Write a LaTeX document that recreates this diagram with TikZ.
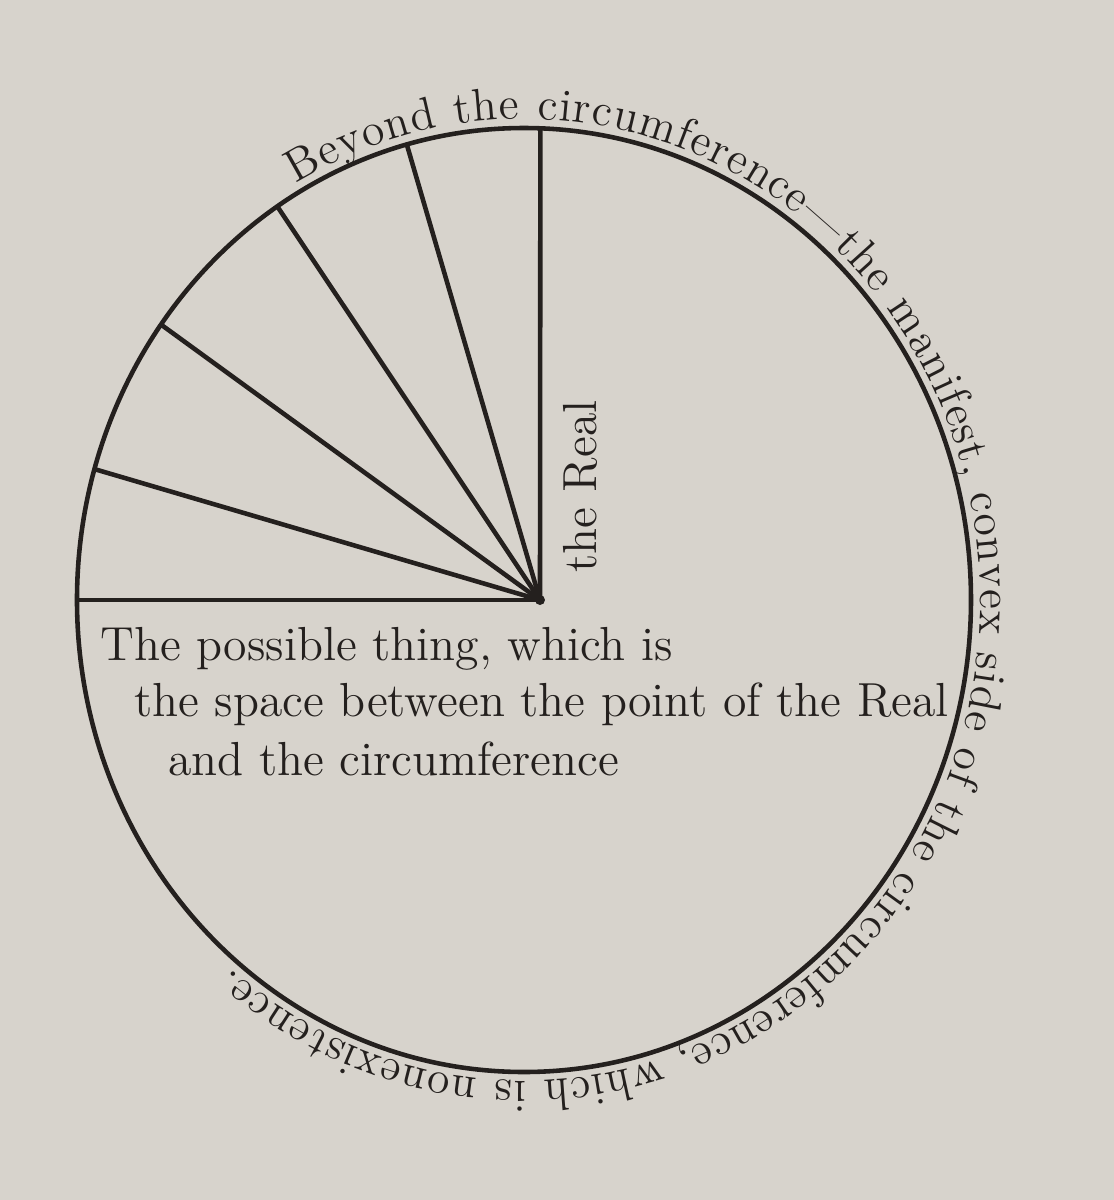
\documentclass[tikz,border=0pt]{standalone}
\usepackage{tikz}
\usetikzlibrary{decorations.text}
\definecolor{paper}{RGB}{215,211,204}
\definecolor{ink}{RGB}{36,32,30}

\begin{document}
\begin{tikzpicture}[line width=1.3pt]
			\tikzstyle{every node}=[inner sep=0pt, text=ink, font=\fontsize{13.6}{16}\selectfont]
			\fill [paper] (-5.24, -6) rectangle (5.90, 6);
			\useasboundingbox (-5.24, -6) rectangle (5.90, 6);
			\coordinate (O) at (0, 0);
			\coordinate (R) at (0.16, 0);
			\draw [ink] (O) ellipse [x radius=4.47, y radius=4.72];
			\foreach \a/\n in {87.9/A, 105.2/B, 123.5/C, 144.3/D, 163.9/E, 180/F} {
				\coordinate (\n) at (\a:4.47 and 4.72);
				\draw [ink, line join=round] (R) -- (\n);
			}
			\fill [ink] (R) circle (0.05);
			\node [rotate=90, anchor=base west] (Real) at (0.73, 0.25) {the Real};
			\node [anchor=base west] (L1) at (-4.26, -0.60) {The possible thing, which is};
			\node [anchor=base west] (L2) at (-3.92, -1.16) {the space between the point of the Real};
			\node [anchor=base west] (L3) at (-3.58, -1.75) {and the circumference};
			\path [decorate, decoration={text along path, text align={fit to path},
				text={|\fontsize{13}{15}\selectfont\color{ink}|Beyond the circumference—the manifest, convex side of the circumference, which is nonexistence.}}]
				(120:4.56 and 4.81) arc [start angle=120, end angle=-130, x radius=4.56, y radius=4.81];
	\end{tikzpicture}
\end{document}
